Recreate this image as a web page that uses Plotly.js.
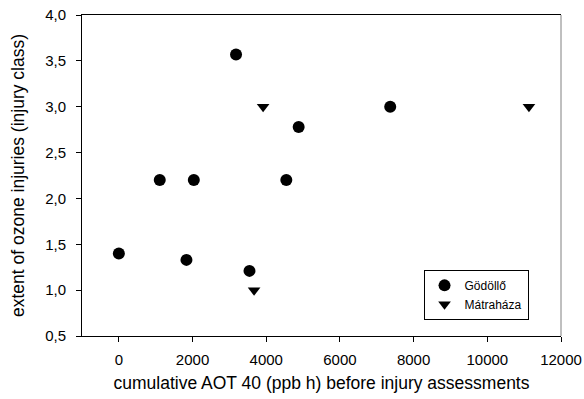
<!DOCTYPE html>
<html>
<head>
<meta charset="utf-8">
<script src="https://cdn.plot.ly/plotly-3.0.1.min.js"></script>
<style>html,body{margin:0;padding:0;background:#fff;}#chart{width:584px;height:399px;}</style>
</head>
<body>
<div id="chart"></div>
<script>
// Gödöllő
var godolloX = [0, 1110, 1835, 2035, 3180, 3545, 4545, 4880, 7365];
var godolloY = [1.40, 2.20, 1.33, 2.20, 3.57, 1.21, 2.20, 2.78, 3.00];
// Mátraháza
var matrahazaX = [3670, 3915, 11130];
var matrahazaY = [1.00, 3.00, 3.00];

var seriesNames = ['Gödöllő', 'Mátraháza'];
var xTitle = 'cumulative AOT 40 (ppb h) before injury assessments';
var yTitle = 'extent of ozone injuries (injury class)';

var font = 'Liberation Sans, Arial, sans-serif';

var traces = [
  {
    x: godolloX, y: godolloY, name: seriesNames[0],
    type: 'scatter', mode: 'markers',
    marker: {symbol: 'circle', size: 12, color: '#000'}
  },
  {
    x: matrahazaX, y: matrahazaY, name: seriesNames[1],
    type: 'scatter', mode: 'markers',
    marker: {symbol: 'triangle-down', size: 11, color: '#000'}
  }
];

var layout = {
  width: 584, height: 399,
  margin: {l: 82, r: 23, t: 15, b: 63},
  paper_bgcolor: '#fff', plot_bgcolor: '#fff',
  separators: ',.',
  font: {family: font, size: 15, color: '#000'},
  showlegend: true,
  legend: {
    x: 0.713, y: 0.206, xanchor: 'left', yanchor: 'top',
    bordercolor: '#000', borderwidth: 1, bgcolor: '#fff',
    font: {family: font, size: 12, color: '#000'},
    tracegroupgap: 0
  },
  xaxis: {
    range: [-1000, 12000], tick0: 0, dtick: 2000, tickformat: 'd',
    showgrid: false, zeroline: false,
    showline: true, linecolor: '#000', linewidth: 1, mirror: true,
    ticks: 'outside', ticklen: 5, tickcolor: '#000',
    ticklabelstandoff: 5,
    tickfont: {family: font, size: 15},
    title: {text: xTitle, font: {family: font, size: 17.5}, standoff: 9}
  },
  yaxis: {
    range: [0.5, 4.0], tick0: 0.5, dtick: 0.5, tickformat: '.1f',
    showgrid: false, zeroline: false,
    showline: true, linecolor: '#000', linewidth: 1,
    ticks: 'outside', ticklen: 5, tickcolor: '#000',
    ticklabelstandoff: 7,
    tickfont: {family: font, size: 15},
    title: {text: yTitle, font: {family: font, size: 17.5}, standoff: 16}
  },
  shapes: [
    {type: 'line', xref: 'paper', yref: 'paper', x0: 1, x1: 1, y0: 0, y1: 1,
     line: {color: '#808080', width: 1}}
  ]
};

Plotly.newPlot('chart', traces, layout, {displayModeBar: false, staticPlot: true});
</script>
</body>
</html>
